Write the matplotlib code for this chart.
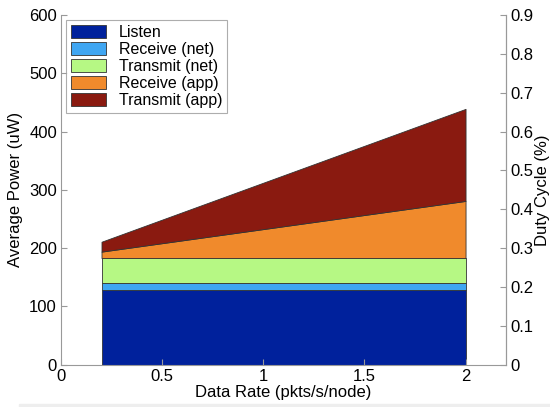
import matplotlib.pyplot as plt
from matplotlib.patches import Rectangle

# data
rate = [0.2, 2.0]
listen = [129, 129]
receive_net = [12, 12]
transmit_net = [42, 42]
receive_app = [11, 98]
transmit_app = [17, 158]
labels = ["Listen", "Receive (net)", "Transmit (net)", "Receive (app)", "Transmit (app)"]
colors = ["#00219c", "#3fa6f2", "#b6f884", "#f08a2c", "#8a1a10"]

plt.rcParams['font.family'] = ['Liberation Sans', 'DejaVu Sans']
plt.rcParams['font.size'] = 12

fig = plt.figure(figsize=(5.5, 4.07), dpi=100)
ax = fig.add_axes([0.111, 0.104, 0.809, 0.859])

polys = ax.stackplot(rate, listen, receive_net, transmit_net, receive_app, transmit_app,
                     colors=colors, labels=labels, edgecolor="#333333", linewidth=0.6)

ax.set_xlim(0, 2.2)
ax.set_ylim(0, 600)
ax.set_xticks([0, 0.5, 1, 1.5, 2])
ax.set_xticklabels(["0", "0.5", "1", "1.5", "2"])
ax.set_yticks(range(0, 601, 100))
ax.set_xlabel("Data Rate (pkts/s/node)", labelpad=1)
ax.set_ylabel("Average Power (uW)", labelpad=4)
ax.tick_params(direction="in", length=4, color="#999999", pad=3)
ax.tick_params(axis="x", pad=3)
ax.spines["top"].set_visible(False)
for s in ["left", "bottom", "right"]:
    ax.spines[s].set_color("#999999")

ax2 = ax.twinx()
ax2.set_ylim(0, 0.9)
ax2.set_yticks([i / 10 for i in range(10)])
ax2.set_yticklabels(["0"] + ["%.1f" % (i / 10) for i in range(1, 10)])
ax2.set_ylabel("Duty Cycle (%)", labelpad=1)
ax2.tick_params(direction="in", length=4, color="#999999", pad=3)
for s in ["top", "left", "bottom"]:
    ax2.spines[s].set_visible(False)
ax2.spines["right"].set_color("#999999")

leg = ax.legend(loc="upper left", bbox_to_anchor=(0.005, 0.995), fancybox=False,
                borderaxespad=0.2, handlelength=2.2, handleheight=0.9,
                labelspacing=0.12, handletextpad=0.8, borderpad=0.3, fontsize=11.5)
leg.get_frame().set_edgecolor("#999999")
leg.get_frame().set_linewidth(0.8)

fig.patches.append(Rectangle((0.035, 0), 0.965, 0.008, transform=fig.transFigure,
                             color="#eeeeee", zorder=0))

fig.savefig("out.png", dpi=100)
